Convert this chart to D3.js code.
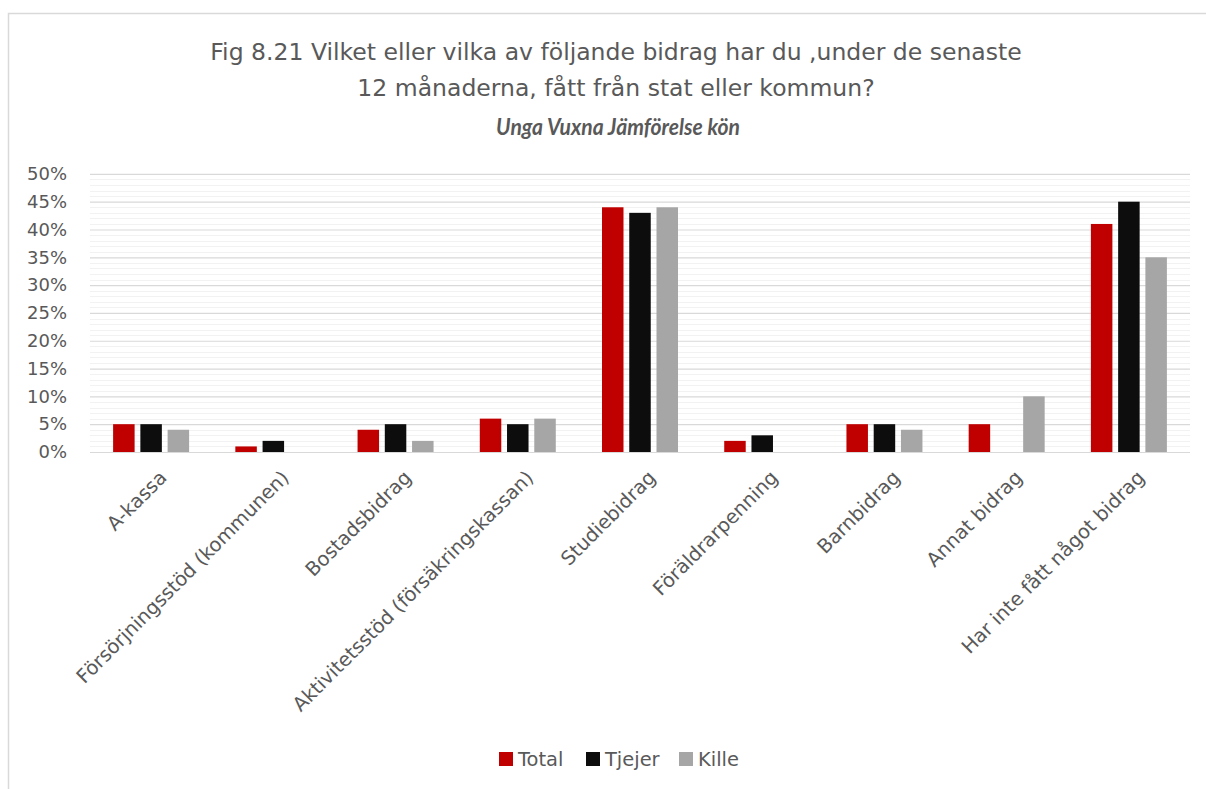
<!DOCTYPE html>
<html><head><meta charset="utf-8">
<script src="https://cdn.jsdelivr.net/npm/d3@7"></script>
<style>body{margin:0;background:#fff}svg{display:block;font-family:"DejaVu Sans",sans-serif}</style>
</head><body><svg id="c" width="1206" height="789"></svg>
<script>
const categories=["A-kassa","Försörjningsstöd (kommunen)","Bostadsbidrag","Aktivitetsstöd (försäkringskassan)","Studiebidrag","Föräldrarpenning","Barnbidrag","Annat bidrag","Har inte fått något bidrag"];
const seriesNames=["Total","Tjejer","Kille"];
const total=[5,1,4,6,44,2,5,5,41];
const tjejer=[5,2,5,5,43,3,5,0,45];
const kille=[4,0,2,6,44,0,4,10,35];
const yTicks=[0,5,10,15,20,25,30,35,40,45,50];
const titleLines=["Fig 8.21 Vilket eller vilka av följande bidrag har du ,under de senaste","12 månaderna, fått från stat eller kommun?"];
const subtitle="Unga Vuxna Jämförelse kön";
const colors=["#C00000","#0D0D0D","#A6A6A6"];
const seriesValues=[total,tjejer,kille];

const FONT='"DejaVu Sans",sans-serif';
const SFONT='Lato,sans-serif';
const svg=d3.select("#c");
const W=1206,H=789;
svg.append("rect").attr("x",8.5).attr("y",13.5).attr("width",W+20).attr("height",H+20).attr("fill","#fff").attr("stroke","#D9D9D9").attr("stroke-width",1.5);

function fitSize(str,target,fam,weight,style){
  const t=svg.append("text").style("font-family",fam||FONT).style("font-size","20px")
    .style("font-weight",weight||"normal").style("font-style",style||"normal").text(str);
  const w=t.node().getComputedTextLength(); t.remove();
  return 20*target/w;
}
const ySize=fitSize("50%",40);
const lblSize=fitSize("TotalTjejerKille",141);

const m={l:90,r:1190,t:173.9,b:452};
const x=d3.scaleBand().domain(categories).range([m.l,m.r]);
const y=d3.scaleLinear().domain([0,50]).range([m.b,m.t]);

const minor=d3.range(0,51,1).filter(v=>v%5!==0);
svg.append("g").selectAll("line").data(minor).join("line")
 .attr("x1",m.l).attr("x2",m.r).attr("y1",d=>Math.round(y(d))+0.5).attr("y2",d=>Math.round(y(d))+0.5)
 .attr("stroke","#F2F2F2").attr("stroke-width",1);
const yAxis=d3.axisLeft(y).tickValues(yTicks).tickSize(-(m.r-m.l)).tickFormat(d=>d+"%").tickPadding(23);
const ga=svg.append("g").attr("transform",`translate(${m.l},0)`).call(yAxis);
ga.select(".domain").remove();
ga.selectAll(".tick line").attr("stroke","#D9D9D9").attr("stroke-width",1.2);
ga.selectAll(".tick text").attr("fill","#595959").style("font-size",ySize+"px").style("font-family",FONT);

const bw=21.5,gap=5.75;
const sub=d3.scaleBand().domain(seriesNames).range([0,3*bw+2*gap]).paddingInner(gap/(bw+gap));
const groups=svg.append("g").selectAll("g").data(categories).join("g")
 .attr("transform",d=>`translate(${x(d)+x.bandwidth()/2-(3*bw+2*gap)/2},0)`);
groups.selectAll("rect").data((c,i)=>seriesNames.map((s,j)=>({s,j,v:seriesValues[j][i]})).filter(d=>d.v>0)).join("rect")
 .attr("x",d=>sub(d.s)).attr("width",sub.bandwidth())
 .attr("y",d=>y(d.v)).attr("height",d=>y(0)-y(d.v))
 .attr("fill",d=>colors[d.j]);

const xl=svg.append("g");
categories.forEach(c=>{
  const cx=x(c)+x.bandwidth()/2;
  xl.append("text").attr("transform",`translate(${cx+12},${474}) rotate(-45)`)
   .attr("text-anchor","end").attr("dy","0.35em").attr("fill","#595959").style("font-size",lblSize+"px").text(c);
});

const tSize=fitSize(titleLines[0],812);
const t=svg.append("g").attr("fill","#595959").attr("text-anchor","middle");
t.append("text").attr("x",616).attr("y",60).style("font-size",tSize+"px").text(titleLines[0]);
t.append("text").attr("x",616).attr("y",96).style("font-size",tSize+"px").text(titleLines[1]);
const sPx=23, sW=244;
const sFit=fitSize(subtitle,sW,SFONT,"bold","italic");
const sx=sFit/sPx;
t.append("text").attr("transform",`translate(618,135) scale(${sx},1)`)
 .style("font-family",SFONT).style("font-size",sPx+"px").style("font-weight","bold").style("font-style","italic").text(subtitle);

const lx=[499,586,679];
const lg=svg.append("g");
seriesNames.forEach((s,i)=>{
  lg.append("rect").attr("x",lx[i]).attr("y",752).attr("width",14).attr("height",14).attr("fill",colors[i]);
  lg.append("text").attr("x",lx[i]+19).attr("y",759).attr("dy","0.35em").attr("fill","#595959").style("font-size",lblSize+"px").text(s);
});
</script></body></html>
